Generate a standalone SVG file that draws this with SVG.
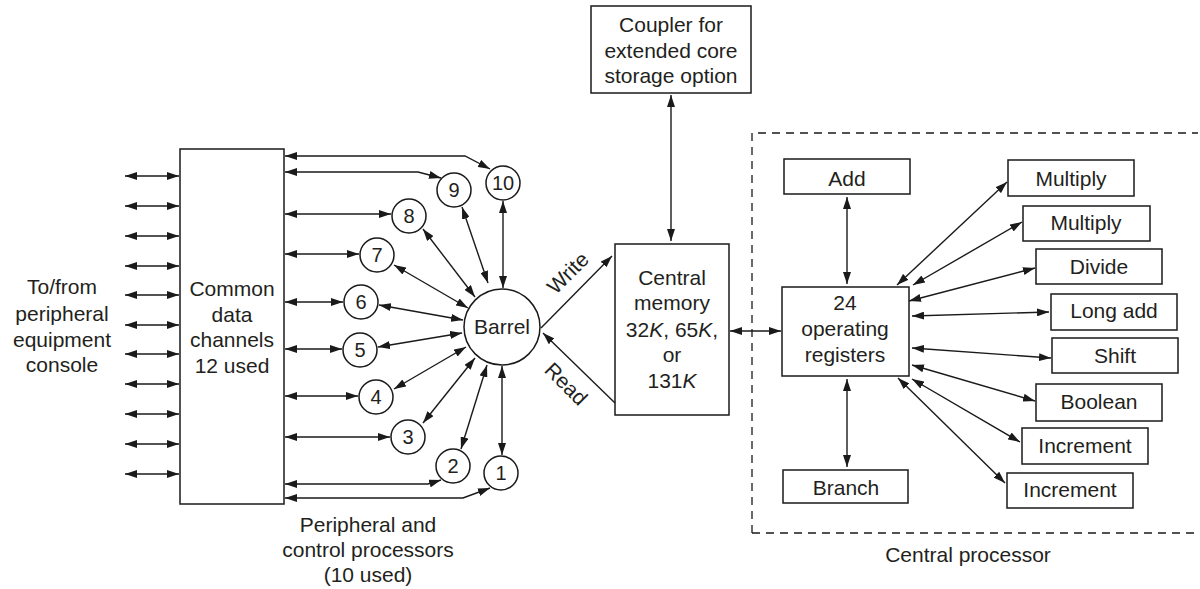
<svg xmlns="http://www.w3.org/2000/svg" width="1200" height="589" viewBox="0 0 1200 589">
<defs>
<marker id="ah" viewBox="0 0 12 8" refX="12" refY="4" markerWidth="12" markerHeight="8" markerUnits="userSpaceOnUse" orient="auto-start-reverse">
<path d="M0,0 L12,4 L0,8 z" fill="#1a1a1a"/>
</marker>
<style>
.box{fill:#fff;stroke:#1a1a1a;stroke-width:1.5}
.ln{fill:none;stroke:#1a1a1a;stroke-width:1.4}
.bi{marker-start:url(#ah);marker-end:url(#ah)}
.one{marker-end:url(#ah)}
.dash{fill:none;stroke:#1a1a1a;stroke-width:1.3;stroke-dasharray:8 6}
text{font-family:"Liberation Sans",Arial,sans-serif;font-size:21px;fill:#231f20;text-anchor:middle}
.num{font-size:20px}
</style>
</defs>
<rect width="1200" height="589" fill="#fff"/>

<g id="peripheral-label">
<text x="62" y="294">To/from</text>
<text x="62" y="321">peripheral</text>
<text x="62" y="347">equipment</text>
<text x="62" y="372">console</text>
</g>

<g id="channels">
<rect class="box" x="180" y="149" width="104" height="355"/>
<text x="232" y="296">Common</text>
<text x="232" y="322">data</text>
<text x="232" y="347">channels</text>
<text x="232" y="373">12 used</text>
</g>

<g id="pp1"><circle class="box" cx="501" cy="473" r="17"/><text class="num" x="501" y="480">1</text></g>
<g id="pp2"><circle class="box" cx="453" cy="466" r="17"/><text class="num" x="453" y="473">2</text></g>
<g id="pp3"><circle class="box" cx="408" cy="437" r="17"/><text class="num" x="408" y="444">3</text></g>
<g id="pp4"><circle class="box" cx="376" cy="397" r="17"/><text class="num" x="376" y="404">4</text></g>
<g id="pp5"><circle class="box" cx="360" cy="350" r="17"/><text class="num" x="360" y="357">5</text></g>
<g id="pp6"><circle class="box" cx="361" cy="302" r="17"/><text class="num" x="361" y="309">6</text></g>
<g id="pp7"><circle class="box" cx="377" cy="255" r="17"/><text class="num" x="377" y="262">7</text></g>
<g id="pp8"><circle class="box" cx="409" cy="216" r="17"/><text class="num" x="409" y="223">8</text></g>
<g id="pp9"><circle class="box" cx="454" cy="190" r="17"/><text class="num" x="454" y="197">9</text></g>
<g id="pp10"><circle class="box" cx="503" cy="183" r="17"/><text class="num" x="503" y="190">10</text></g>

<g id="barrel">
<circle class="box" cx="502" cy="327" r="38"/>
<text x="502" y="334">Barrel</text>
</g>

<g id="pp-label">
<text x="368" y="532">Peripheral and</text>
<text x="368" y="557">control processors</text>
<text x="368" y="582">(10 used)</text>
</g>

<g id="coupler">
<rect class="box" x="591" y="6" width="160" height="87"/>
<text x="671" y="32">Coupler for</text>
<text x="671" y="58">extended core</text>
<text x="671" y="83">storage option</text>
</g>

<g id="memory">
<rect class="box" x="615" y="244" width="114" height="171"/>
<text x="672" y="285">Central</text>
<text x="672" y="310">memory</text>
<text x="672" y="337">32<tspan font-style="italic">K</tspan>, 65<tspan font-style="italic">K</tspan>,</text>
<text x="672" y="362">or</text>
<text x="672" y="388">131<tspan font-style="italic">K</tspan></text>
</g>

<g id="central-processor">
<path class="dash" d="M752,533 L752,133 L1198,133"/>
<path class="dash" d="M752,533 L1198,533"/>
<text x="968" y="562">Central processor</text>
</g>

<g id="registers">
<rect class="box" x="782" y="287" width="127" height="89"/>
<text x="845" y="310">24</text>
<text x="845" y="336">operating</text>
<text x="845" y="362">registers</text>
</g>

<g id="add"><rect class="box" x="784" y="159" width="126" height="35"/><text x="847" y="186">Add</text></g>
<g id="branch"><rect class="box" x="783" y="470" width="125" height="33"/><text x="846" y="495">Branch</text></g>
<g id="multiply1"><rect class="box" x="1008" y="160" width="126" height="36"/><text x="1071" y="186">Multiply</text></g>
<g id="multiply2"><rect class="box" x="1023" y="206" width="127" height="35"/><text x="1086" y="230">Multiply</text></g>
<g id="divide"><rect class="box" x="1036" y="249" width="126" height="35"/><text x="1099" y="274">Divide</text></g>
<g id="longadd"><rect class="box" x="1051" y="294" width="126" height="36"/><text x="1114" y="318">Long add</text></g>
<g id="shift"><rect class="box" x="1052" y="338" width="126" height="35"/><text x="1115" y="363">Shift</text></g>
<g id="boolean"><rect class="box" x="1036" y="384" width="126" height="37"/><text x="1099" y="409">Boolean</text></g>
<g id="increment1"><rect class="box" x="1022" y="428" width="126" height="36"/><text x="1085" y="453">Increment</text></g>
<g id="increment2"><rect class="box" x="1007" y="473" width="126" height="35"/><text x="1070" y="497">Increment</text></g>

<g id="write-read-labels">
<text transform="translate(573,278) rotate(-45)">Write</text>
<text transform="translate(561,389) rotate(45)">Read</text>
</g>

<g id="connectors">
<path class="ln bi" d="M125,176 L179,176"/>
<path class="ln bi" d="M125,206 L179,206"/>
<path class="ln bi" d="M125,236 L179,236"/>
<path class="ln bi" d="M125,266 L179,266"/>
<path class="ln bi" d="M125,295 L179,295"/>
<path class="ln bi" d="M125,325 L179,325"/>
<path class="ln bi" d="M125,354 L179,354"/>
<path class="ln bi" d="M125,384 L179,384"/>
<path class="ln bi" d="M125,414 L179,414"/>
<path class="ln bi" d="M125,444 L179,444"/>
<path class="ln bi" d="M125,474 L179,474"/>

<path class="ln bi" d="M285,156 L465,156 L490,169"/>
<path class="ln bi" d="M285,172 L418,172 L441,178"/>
<path class="ln bi" d="M285,214 L391,214"/>
<path class="ln bi" d="M285,254 L359,254"/>
<path class="ln bi" d="M285,302 L343,302"/>
<path class="ln bi" d="M285,349 L342,349"/>
<path class="ln bi" d="M285,396 L358,396"/>
<path class="ln bi" d="M285,437 L390,437"/>
<path class="ln bi" d="M285,484 L428,484 L441,480"/>
<path class="ln bi" d="M285,498 L463,498 L490,488"/>

<path class="ln bi" d="M503,201 L503,288"/>
<path class="ln bi" d="M462,207 L488,283"/>
<path class="ln bi" d="M423,229 L475,297"/>
<path class="ln bi" d="M394,265 L468,308"/>
<path class="ln bi" d="M379,305 L463,320"/>
<path class="ln bi" d="M378,347 L462,333"/>
<path class="ln bi" d="M394,389 L466,347"/>
<path class="ln bi" d="M423,423 L475,358"/>
<path class="ln bi" d="M461,449 L487,365"/>
<path class="ln bi" d="M502,366 L502,455"/>

<path class="ln one" d="M541,328 L612,256"/>
<path class="ln one" d="M615,403 L543,333"/>

<path class="ln bi" d="M671,95 L671,241"/>
<path class="ln bi" d="M730,331 L781,331"/>

<path class="ln bi" d="M847,197 L847,284"/>
<path class="ln bi" d="M847,379 L847,467"/>

<path class="ln bi" d="M897,285 L1007,182"/>
<path class="ln bi" d="M913,285 L1022,222"/>
<path class="ln bi" d="M909,301 L1035,268"/>
<path class="ln bi" d="M912,316 L1049,312"/>
<path class="ln bi" d="M912,348 L1051,358"/>
<path class="ln bi" d="M912,365 L1035,401"/>
<path class="ln bi" d="M912,379 L1020,442"/>
<path class="ln bi" d="M898,378 L1005,483"/>
</g>
</svg>
